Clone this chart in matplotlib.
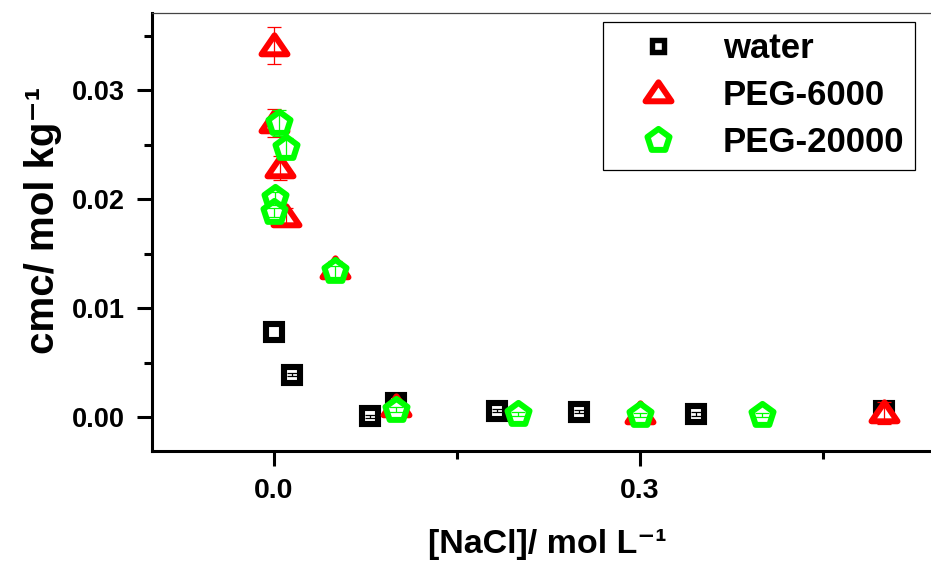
import numpy as np
import matplotlib
matplotlib.use("Agg")
import matplotlib.pyplot as plt
from matplotlib.markers import MarkerStyle
from matplotlib.path import Path
from matplotlib.lines import Line2D
from matplotlib.ticker import MultipleLocator, FormatStrFormatter

plt.rcParams['font.family'] = ['Liberation Sans', 'DejaVu Sans']
plt.rcParams['font.weight'] = 'bold'

# ---- data -------------------------------------------------------------
series_labels = ['water', 'PEG-6000', 'PEG-20000']

nacl_water = [0.0, 0.015, 0.079, 0.1, 0.183, 0.25, 0.346, 0.5]
cmc_water = [0.0078, 0.0039, 0.0001, 0.0013, 0.0006, 0.0005, 0.0003, 0.0006]
err_water = [np.nan, 0.00015, 0.00015, 0.00015, 0.00015, 0.00015, 0.00015, 0.00015]

nacl_peg6000 = [0.0, 0.0, 0.005, 0.01, 0.05, 0.1, 0.3, 0.5]
cmc_peg6000 = [0.0341, 0.0270, 0.0229, 0.0184, 0.0136, 0.0009, 0.0003, 0.0004]
err_peg6000 = [0.0017, 0.0013, 0.0011, 0.0008, 0.0007, 0.0003, 0.0002, 0.0010]

nacl_peg20000 = [0.004, 0.01, 0.001, 0.0, 0.05, 0.1, 0.2, 0.3, 0.4]
cmc_peg20000 = [0.0270, 0.0247, 0.0201, 0.0188, 0.0134, 0.0007, 0.0003, 0.0002, 0.0002]
err_peg20000 = [0.0012, 0.0009, 0.0006, 0.0004, 0.0005, 0.0002, 0.0002, 0.0002, 0.0002]

xticks_major = [0.0, 0.3]

# ---- figure -----------------------------------------------------------
W, H = 931, 565
fig = plt.figure(figsize=(W / 100, H / 100), dpi=100)
ax = fig.add_axes([152 / W, 1 - 451 / H, (931 - 152) / W, (451 - 13) / H])

RED = '#ff0000'
GREEN = '#00ff00'
BLACK = '#000000'

square = MarkerStyle('s', joinstyle='miter')
triangle = MarkerStyle(Path([(-1, -0.6), (1, -0.6), (0, 0.86), (-1, -0.6)], closed=True),
                       joinstyle='round')
pentagon = MarkerStyle((5, 0, 0), joinstyle='round')


def draw_series(x, y, err, color, marker, ms, mew, z, capsize):
    ax.plot(x, y, ls='none', marker=marker, ms=ms, mec=color, mfc='white',
            mew=mew, zorder=z)
    ax.errorbar(x, y, yerr=err, fmt='none', ecolor=color, elinewidth=0.9,
                capsize=capsize, capthick=0.9, zorder=z + 0.5)


draw_series(nacl_water, cmc_water, err_water, BLACK, square, 11.8, 4.4, 3, 3.6)
draw_series(nacl_peg6000, cmc_peg6000, err_peg6000, RED, triangle, 18.7, 4.3, 4, 5.0)
draw_series(nacl_peg20000, cmc_peg20000, err_peg20000, GREEN, pentagon, 16.7, 4.3, 5, 5.0)

# ---- axes -------------------------------------------------------------
ax.set_xlim(-0.1, 0.5385)
ax.set_ylim(-0.0031, 0.0371)

ax.set_xticks(xticks_major)
ax.xaxis.set_minor_locator(MultipleLocator(0.15))
ax.xaxis.set_major_formatter(FormatStrFormatter('%.1f'))
ax.yaxis.set_major_locator(MultipleLocator(0.01))
ax.yaxis.set_minor_locator(MultipleLocator(0.005))
ax.yaxis.set_major_formatter(FormatStrFormatter('%.2f'))

ax.tick_params(which='major', direction='out', length=10.8, width=2.2, pad=9,
               top=False, right=False)
ax.tick_params(which='minor', direction='out', length=6.0, width=2.2,
               top=False, right=False)
ax.tick_params(axis='x', labelsize=20.5)
ax.tick_params(axis='y', labelsize=19.5)

for side in ('left', 'bottom'):
    ax.spines[side].set_linewidth(2.2)
    ax.spines[side].set_color(BLACK)
ax.spines['top'].set_linewidth(0.9)
ax.spines['top'].set_color('#444444')
ax.spines['right'].set_visible(False)

ax.set_xlabel('[NaCl]/ mol L\u207b\u00b9', fontsize=24.5, fontweight='bold')
ax.xaxis.set_label_coords(0.508, -0.177)
ax.set_ylabel('cmc/ mol kg\u207b\u00b9', fontsize=29, fontweight='bold')
ax.yaxis.set_label_coords(-0.1155, 0.527)

# ---- legend -----------------------------------------------------------
handles = [
    Line2D([], [], ls='none', marker=square, ms=8.3, mew=3.9, mec=BLACK, mfc='white'),
    Line2D([], [], ls='none', marker=triangle, ms=18.7, mew=4.3, mec=RED, mfc='white'),
    Line2D([], [], ls='none', marker=pentagon, ms=16.7, mew=4.3, mec=GREEN, mfc='white'),
]
leg = ax.legend(handles, series_labels, loc='upper right',
                bbox_to_anchor=(915 / W, 1 - 22 / H), bbox_transform=fig.transFigure,
                frameon=True, fancybox=False, edgecolor=BLACK, framealpha=1,
                borderpad=0.3, handlelength=2.62, handletextpad=0.55,
                labelspacing=0.4, borderaxespad=0, numpoints=1,
                prop={'size': 25, 'weight': 'bold'})
leg.get_frame().set_linewidth(0.9)

fig.savefig('out.png', dpi=100)
